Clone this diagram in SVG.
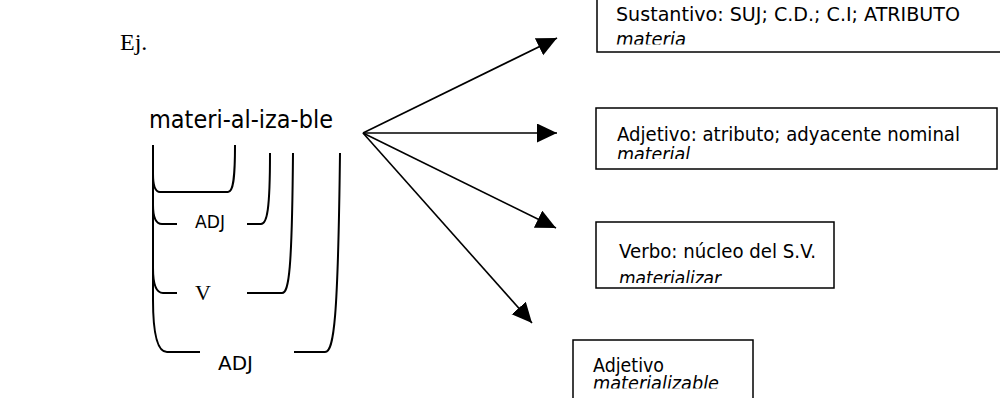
<svg xmlns="http://www.w3.org/2000/svg" width="1000" height="398" viewBox="0 0 1000 398">
<style>
.sans{font-family:"DejaVu Sans","Liberation Sans",sans-serif;fill:#000}
.serif{font-family:"Liberation Serif","DejaVu Serif",serif;fill:#000}
.box{fill:none;stroke:#000;stroke-width:1.5}
.br{fill:none;stroke:#000;stroke-width:2}
.arr{fill:none;stroke:#000;stroke-width:1.6;marker-end:url(#ah)}
.it{font-style:italic}
</style>
<defs>
<marker id="ah" markerUnits="userSpaceOnUse" markerWidth="22" markerHeight="20" refX="20" refY="9.5" orient="auto">
<path d="M0,0 L20,9.5 L0,19 z" fill="#000"/>
</marker>
<clipPath id="c1"><rect x="590" y="0" width="410" height="44.5"/></clipPath>
<clipPath id="c2"><rect x="590" y="100" width="410" height="59"/></clipPath>
<clipPath id="c3"><rect x="590" y="220" width="300" height="63"/></clipPath>
<clipPath id="c4"><rect x="570" y="340" width="200" height="48.5"/></clipPath>
</defs>
<rect width="1000" height="398" fill="#fff"/>
<text id="ej" class="serif" x="120" y="50" font-size="24">Ej.</text>
<g id="word">
<text class="sans" x="149" y="128" font-size="25" textLength="184" lengthAdjust="spacingAndGlyphs">materi-al-iza-ble</text>
</g>
<g id="bracket1">
<path class="br" d="M153,145 L153,174 C153,186 155,192 160,192 L228,192 C233,192 235,180 235,145"/>
</g>
<g id="bracket2">
<path class="br" d="M153,145 L153,205 C153,218 156,224 162,224 L177,224"/>
<path class="br" d="M247,224 L261,224 C267,224 270,210 270,153"/>
<text class="sans" x="195" y="228" font-size="17.5" textLength="30" lengthAdjust="spacingAndGlyphs">ADJ</text>
</g>
<g id="bracket3">
<path class="br" d="M153,145 L153,268 C153,285 157,293 163,293 L177,293"/>
<path class="br" d="M247,293 L282,293 C289,293 292,270 293,153"/>
<text class="serif" x="195" y="300" font-size="22">V</text>
</g>
<g id="bracket4">
<path class="br" d="M153,145 L153,300 C153,335 158,352 167,352 L200,352"/>
<path class="br" d="M294,352 L325,352 C334,352 338,320 340,153"/>
<text class="sans" x="218" y="370" font-size="19.5" textLength="35" lengthAdjust="spacingAndGlyphs">ADJ</text>
</g>
<g id="connectors">
<line class="arr" x1="363" y1="133" x2="557" y2="38"/>
<line class="arr" x1="363" y1="133" x2="557" y2="133"/>
<line class="arr" x1="363" y1="133" x2="556" y2="228"/>
<line class="arr" x1="363" y1="133" x2="532" y2="323"/>
</g>
<g id="box-sustantivo">
<rect class="box" x="597" y="-5" width="410" height="57"/>
<text class="sans" x="616" y="21" font-size="19" textLength="344" lengthAdjust="spacingAndGlyphs">Sustantivo: SUJ; C.D.; C.I; ATRIBUTO</text>
<text class="sans it" x="616" y="46" font-size="19" textLength="70" lengthAdjust="spacingAndGlyphs" clip-path="url(#c1)">materia</text>
</g>
<g id="box-adjetivo1">
<rect class="box" x="596" y="108" width="401" height="61"/>
<text class="sans" x="617" y="141" font-size="19" textLength="343" lengthAdjust="spacingAndGlyphs">Adjetivo: atributo;  adyacente nominal</text>
<text class="sans it" x="617" y="160.5" font-size="19" textLength="73" lengthAdjust="spacingAndGlyphs" clip-path="url(#c2)">material</text>
</g>
<g id="box-verbo">
<rect class="box" x="596" y="222" width="238" height="66"/>
<text class="sans" x="619" y="258" font-size="19" textLength="197" lengthAdjust="spacingAndGlyphs">Verbo: núcleo del S.V.</text>
<text class="sans it" x="619" y="284.5" font-size="19" textLength="102" lengthAdjust="spacingAndGlyphs" clip-path="url(#c3)">materializar</text>
</g>
<g id="box-adjetivo2">
<rect class="box" x="573" y="340" width="180" height="70"/>
<text class="sans" x="593" y="372" font-size="19" textLength="71" lengthAdjust="spacingAndGlyphs">Adjetivo</text>
<text class="sans it" x="593" y="390" font-size="19" textLength="126" lengthAdjust="spacingAndGlyphs" clip-path="url(#c4)">materializable</text>
</g>
</svg>
